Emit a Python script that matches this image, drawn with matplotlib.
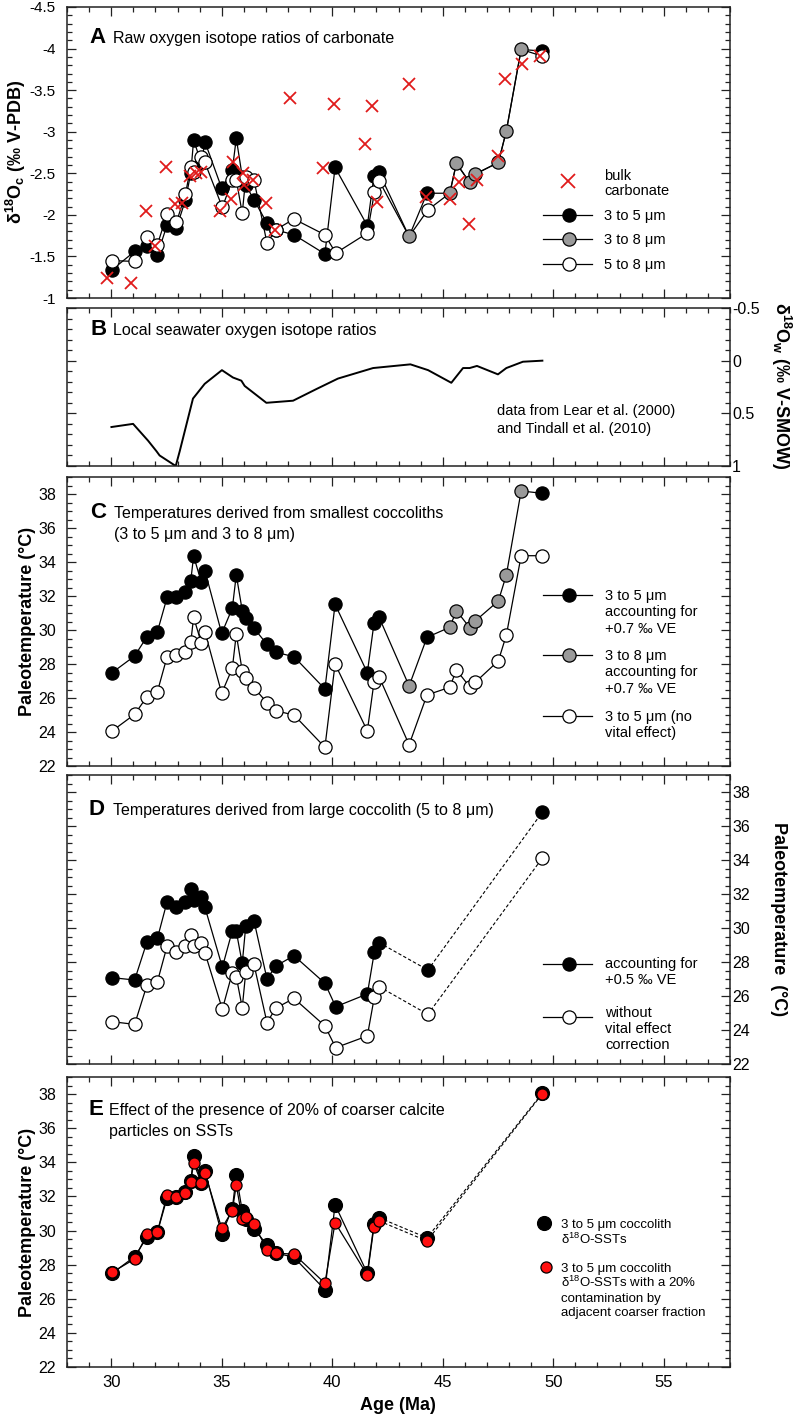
import matplotlib
matplotlib.use('Agg')
import matplotlib.pyplot as plt
from matplotlib.lines import Line2D
from matplotlib.ticker import MultipleLocator, FuncFormatter

plt.rcParams['font.family'] = ['Liberation Sans', 'DejaVu Sans']
plt.rcParams['mathtext.fontset'] = 'custom'
plt.rcParams['mathtext.rm'] = 'Liberation Sans'
plt.rcParams['mathtext.bf'] = 'Liberation Sans:bold'
plt.rcParams['mathtext.it'] = 'Liberation Sans:italic'
plt.rcParams['mathtext.default'] = 'regular'
plt.rcParams['axes.unicode_minus'] = False

# ---- data ----
# small coccolith samples (3-5 um, or 3-8 um where not split)
age_small = [30.04, 31.06, 31.62, 32.09, 32.53, 32.95, 33.36, 33.60, 33.73, 34.08,
             34.24, 35.00, 35.48, 35.66, 35.93, 36.09, 36.46, 37.05, 37.44, 38.27,
             39.67, 40.13, 41.59, 41.89, 42.12, 43.48, 44.29, 45.32, 45.62, 46.22,
             46.47, 47.52, 47.88, 48.55, 49.50]
frac_small = ['3-5'] * 25 + ['3-8', '3-5'] + ['3-8'] * 7 + ['3-5']
d18o_small = [-1.34, -1.56, -1.62, -1.52, -1.88, -1.84, -2.18, -2.50, -2.90, -2.62,
              -2.88, -2.32, -2.54, -2.92, -2.46, -2.36, -2.18, -1.90, -1.82, -1.76,
              -1.53, -2.57, -1.87, -2.47, -2.51, -1.74, -2.26, -2.26, -2.62, -2.39,
              -2.49, -2.63, -3.01, -3.99, -3.97]
temp_small_ve = [27.49, 28.47, 29.61, 29.90, 31.92, 31.96, 32.25, 32.90, 34.35, 32.80,
                 33.49, 29.80, 31.28, 33.24, 31.14, 30.69, 30.10, 29.16, 28.69, 28.43,
                 26.53, 31.51, 27.49, 30.39, 30.75, 26.71, 29.57, 30.16, 31.14, 30.14,
                 30.53, 31.71, 33.24, 38.18, 38.04]
temp_small_nove = [24.06, 25.04, 26.08, 26.37, 28.43, 28.53, 28.69, 29.28, 30.75, 29.22,
                   29.90, 26.28, 27.75, 29.75, 27.59, 27.16, 26.61, 25.72, 25.25, 25.00,
                   23.10, 28.00, 24.06, 26.92, 27.25, 23.25, 26.18, 26.63, 27.65, 26.66,
                   26.92, 28.19, 29.70, 34.37, 34.37]
# 3-5 um SSTs with 20% coarser contamination (3-5 um samples only)
temp_contam = [27.55, 28.33, 29.78, 29.93, 32.08, 31.98, 32.22, 32.86, 33.98, 32.77,
               33.39, 30.13, 31.16, 32.67, 30.66, 30.78, 30.38, 28.86, 28.67, 28.62,
               26.91, 30.46, 27.39, 30.23, 30.56, 29.39, 38.00]

# large coccolith (5-8 um)
age_large = [30.04, 31.06, 31.62, 32.09, 32.53, 32.95, 33.36, 33.60, 33.73, 34.08,
             34.24, 35.03, 35.48, 35.66, 35.93, 36.09, 36.46, 37.05, 37.44, 38.27,
             39.67, 40.16, 41.59, 41.91, 42.12, 44.33, 49.50]
d18o_large = [-1.45, -1.44, -1.73, -1.64, -2.01, -1.91, -2.25, -2.58, -2.52, -2.70,
              -2.63, -2.09, -2.42, -2.42, -2.02, -2.45, -2.42, -1.66, -1.82, -1.95,
              -1.76, -1.54, -1.78, -2.27, -2.41, -2.06, -3.91]
temp_large_ve = [27.08, 26.94, 29.19, 29.39, 31.55, 31.25, 31.55, 32.28, 31.65, 31.84,
                 31.22, 27.69, 29.84, 29.80, 27.92, 30.14, 30.43, 27.00, 27.76, 28.37,
                 26.75, 25.37, 26.12, 28.61, 29.14, 27.53, 36.80]
temp_large_nove = [24.49, 24.33, 26.65, 26.84, 28.94, 28.61, 28.94, 29.59, 28.94, 29.14,
                   28.55, 25.22, 27.37, 27.13, 25.31, 27.43, 27.86, 24.43, 25.28, 25.86,
                   24.24, 22.96, 23.65, 25.96, 26.55, 24.92, 34.10]

# bulk carbonate
bulk_age = [29.83, 30.91, 31.56, 31.97, 32.47, 32.87, 33.22, 33.55, 33.85, 34.08,
            34.94, 35.44, 35.51, 35.96, 36.02, 36.40, 37.02, 37.40, 38.08, 39.58,
            40.07, 41.47, 41.80, 42.03, 43.46, 44.26, 45.32, 45.72, 46.19, 46.55,
            47.48, 47.81, 48.59, 49.42]
bulk_d18o = [-1.24, -1.18, -2.05, -1.63, -2.57, -2.13, -2.14, -2.47, -2.50, -2.51,
             -2.05, -2.19, -2.64, -2.50, -2.36, -2.42, -2.14, -1.82, -3.40, -2.56,
             -3.33, -2.85, -3.31, -2.16, -3.57, -2.21, -2.19, -2.40, -1.89, -2.42,
             -2.71, -3.63, -3.81, -3.91]

# local seawater d18O (Lear et al. 2000, Tindall et al. 2010)
sw_age = [30.01, 30.99, 31.67, 32.05, 32.19, 32.92, 33.10, 33.70, 34.23, 35.01,
          35.51, 35.89, 36.04, 37.02, 38.23, 39.28, 40.26, 41.85, 43.54, 44.34,
          45.39, 45.92, 46.22, 46.55, 47.50, 47.88, 48.63, 49.51]
sw_d18o = [0.63, 0.60, 0.76, 0.86, 0.90, 1.00, 0.86, 0.36, 0.22, 0.09,
           0.16, 0.19, 0.24, 0.40, 0.38, 0.27, 0.17, 0.07, 0.035, 0.09,
           0.21, 0.07, 0.07, 0.05, 0.13, 0.07, 0.01, 0.00]

# ---- helpers ----
W, H = 794, 1420
L, R = 67, 730
fig = plt.figure(figsize=(W / 100, H / 100), dpi=100)

GRAY = '#9a9a9a'
RED = '#e01b1b'
LW = 0.9
MS = 9.5


def px(x, y):
    return x / W, 1 - y / H


def make_axes(top, bottom):
    return fig.add_axes([L / W, 1 - bottom / H, (R - L) / W, (bottom - top) / H])


def style(ax, ymaj, ymin, labels='left'):
    ax.set_xlim(28, 58)
    ax.xaxis.set_major_locator(MultipleLocator(5))
    ax.xaxis.set_minor_locator(MultipleLocator(1))
    ax.yaxis.set_major_locator(MultipleLocator(ymaj))
    ax.yaxis.set_minor_locator(MultipleLocator(ymin))
    ax.yaxis.set_major_formatter(FuncFormatter(lambda v, p: '%g' % round(v, 2)))
    ax.tick_params(which='both', direction='in', top=True, right=True,
                   width=0.9, color='#222222')
    ax.tick_params(which='major', length=6.5)
    ax.tick_params(which='minor', length=3.3)
    ax.tick_params(axis='x', labelbottom=False, labelsize=12, pad=6)
    ax.tick_params(axis='y', labelsize=11.5, labelleft=(labels == 'left'),
                   labelright=(labels == 'right'), pad=(8 if labels == 'left' else 1.5))
    for s in ax.spines.values():
        s.set_linewidth(1.1)
        s.set_color('#222222')


def text_lines(x, y0, lines, dy, size, **kw):
    for i, s in enumerate(lines):
        fig.text(x / W, 1 - (y0 + i * dy) / H, s, fontsize=size,
                 va='baseline', ha='left', **kw)


def panel_title(letter, xl, xt, y0, lines, dy=21.5):
    fig.text(xl / W, 1 - y0 / H, letter, fontsize=16, fontweight='bold', va='baseline')
    text_lines(xt, y0, lines, dy, 11.5)


def leg_handle(y, face, marker='o', line=True, x0=543, x1=592, xm=569, ms=MS, **kw):
    fy = px(0, y)[1]
    if line:
        fig.add_artist(Line2D([x0 / W, x1 / W], [fy, fy], color='k', lw=LW))
    opts = dict(marker=marker, ls='none', ms=ms)
    if marker == 'x':
        opts.update(color=RED, mew=1.3)
    else:
        opts.update(mfc=face, mec='k', mew=0.9)
    opts.update(kw)
    fig.add_artist(Line2D([xm / W], [fy], **opts))


is35 = [f == '3-5' for f in frac_small]
age35 = [a for a, k in zip(age_small, is35) if k]
age38 = [a for a, k in zip(age_small, is35) if not k]

# ---- Panel A ----
axA = make_axes(7, 298)
style(axA, 0.5, 0.1)
axA.tick_params(axis='y', labelsize=11)
axA.set_ylim(-1, -4.5)
d18o_35 = [v for v, k in zip(d18o_small, is35) if k]
d18o_38 = [v for v, k in zip(d18o_small, is35) if not k]
# 5-8 um line runs through the unsplit 3-8 um values where no 5-8 value exists
pairs = sorted(list(zip(age_large, d18o_large)) + list(zip(age38, d18o_38)))
axA.plot(age_small, d18o_small, '-', color='k', lw=LW, zorder=2)
axA.plot([p[0] for p in pairs], [p[1] for p in pairs], '-', color='k', lw=LW, zorder=2)
axA.plot(age35, d18o_35, 'o', mfc='k', mec='k', ms=MS, mew=0.9, zorder=3)
axA.plot(age38, d18o_38, 'o', mfc=GRAY, mec='k', ms=MS, mew=0.9, zorder=3)
axA.plot(age_large, d18o_large, 'o', mfc='white', mec='k', ms=MS, mew=0.9, zorder=4)
axA.plot(bulk_age, bulk_d18o, 'x', color=RED, ms=8, mew=1.3, zorder=5)
panel_title('A', 89, 113, 43, ['Raw oxygen isotope ratios of carbonate'])
leg_handle(181, None, marker='x', line=False, xm=568)
text_lines(604, 180, ['bulk', 'carbonate'], 15, 10.5)
leg_handle(215, 'k')
leg_handle(239, GRAY)
leg_handle(264, 'white')
text_lines(604, 220, ['3 to 5 \u03bcm'], 0, 10.5)
text_lines(604, 244, ['3 to 8 \u03bcm'], 0, 10.5)
text_lines(604, 269, ['5 to 8 \u03bcm'], 0, 10.5)
fig.text(16 / W, 1 - 152 / H, r'$\mathbf{\delta^{18}O_c}$ (‰ V-PDB)', rotation=90,
         ha='center', va='center', fontsize=13, fontweight='bold')

# ---- Panel B ----
axB = make_axes(308, 466)
style(axB, 0.5, 0.1, labels='right')
axB.set_ylim(1, -0.5)
axB.plot(sw_age, sw_d18o, '-', color='k', lw=1.4, clip_on=True)
panel_title('B', 90, 113, 335, ['Local seawater oxygen isotope ratios'])
text_lines(497, 415, ['data from Lear et al. (2000)', 'and Tindall et al. (2010)'], 18.5, 10.5)
fig.text(781 / W, 1 - 386 / H, r'$\mathbf{\delta^{18}O_w}$ (‰ V-SMOW)', rotation=270,
         ha='center', va='center', fontsize=13, fontweight='bold')

# ---- Panel C ----
axC = make_axes(477, 766)
style(axC, 2, 0.5)
axC.set_ylim(22, 39)
t35 = [v for v, k in zip(temp_small_ve, is35) if k]
t38 = [v for v, k in zip(temp_small_ve, is35) if not k]
axC.plot(age_small, temp_small_ve, '-', color='k', lw=LW, zorder=2)
axC.plot(age35, t35, 'o', mfc='k', mec='k', ms=MS, mew=0.9, zorder=3)
axC.plot(age38, t38, 'o', mfc=GRAY, mec='k', ms=MS, mew=0.9, zorder=3)
axC.plot(age_small, temp_small_nove, '-o', color='k', lw=LW, mfc='white', mec='k',
         ms=MS, mew=0.9, zorder=3)
panel_title('C', 90, 114, 518, ['Temperatures derived from smallest coccoliths',
                                '(3 to 5 \u03bcm and 3 to 8 \u03bcm)'])
leg_handle(595, 'k')
leg_handle(655, GRAY)
leg_handle(716, 'white')
text_lines(605, 600, ['3 to 5 \u03bcm', 'accounting for', '+0.7 ‰ VE'], 16.3, 10.5)
text_lines(605, 660, ['3 to 8 \u03bcm', 'accounting for', '+0.7 ‰ VE'], 16.3, 10.5)
text_lines(605, 721, ['3 to 5 \u03bcm (no', 'vital effect)'], 15.5, 10.5)
fig.text(28 / W, 1 - 621 / H, 'Paleotemperature (°C)', rotation=90,
         ha='center', va='center', fontsize=13, fontweight='bold')

# ---- Panel D ----
axD = make_axes(775, 1064)
style(axD, 2, 0.5, labels='right')
axD.set_ylim(22, 39)
for temps, face in [(temp_large_ve, 'k'), (temp_large_nove, 'white')]:
    axD.plot(age_large[:25], temps[:25], '-', color='k', lw=LW, zorder=2)
    axD.plot(age_large[24:], temps[24:], color='k', lw=0.8, ls=(0, (3, 2)), zorder=2)
    axD.plot(age_large, temps, 'o', mfc=face, mec='k', ms=MS, mew=0.9, zorder=3)
panel_title('D', 89, 113, 815, ['Temperatures derived from large coccolith (5 to 8 \u03bcm)'])
leg_handle(964, 'k')
leg_handle(1017, 'white')
text_lines(605, 968, ['accounting for', '+0.5 ‰ VE'], 16, 10.5)
text_lines(605, 1017, ['without', 'vital effect', 'correction'], 15.8, 10.5)
fig.text(779 / W, 1 - 919 / H, 'Paleotemperature  (°C)', rotation=270,
         ha='center', va='center', fontsize=13, fontweight='bold')

# ---- Panel E ----
axE = make_axes(1077, 1367)
style(axE, 2, 0.5)
axE.set_ylim(22, 39)
axE.tick_params(axis='x', labelbottom=True)
for temps in [t35, temp_contam]:
    axE.plot(age35[:25], temps[:25], '-', color='k', lw=LW, zorder=2)
    axE.plot(age35[24:], temps[24:], color='k', lw=0.8, ls=(0, (3, 2)), zorder=2)
axE.plot(age35, t35, 'o', mfc='k', mec='k', ms=10, mew=0.9, zorder=3)
axE.plot(age35, temp_contam, 'o', mfc='#ff1010', mec='k', ms=8, mew=0.9, zorder=4)
panel_title('E', 88, 109, 1115, ['Effect of the presence of 20% of coarser calcite',
                                 'particles on SSTs'], dy=21)
leg_handle(1223, 'k', line=False, xm=544, ms=10)
leg_handle(1267, '#ff1010', line=False, xm=546, ms=8)
text_lines(561, 1228, ['3 to 5 \u03bcm coccolith', '\u03b4$^{18}$O-SSTs'], 16, 9.5)
text_lines(561, 1272, ['3 to 5 \u03bcm coccolith', '\u03b4$^{18}$O-SSTs with a 20%',
                       'contamination by', 'adjacent coarser fraction'], 14.8, 9.5)
fig.text(28 / W, 1 - 1222 / H, 'Paleotemperature (°C)', rotation=90,
         ha='center', va='center', fontsize=13, fontweight='bold')
fig.text(398 / W, 1 - 1405 / H, 'Age (Ma)', ha='center', va='center',
         fontsize=13, fontweight='bold')

fig.savefig('out.png', dpi=100)
